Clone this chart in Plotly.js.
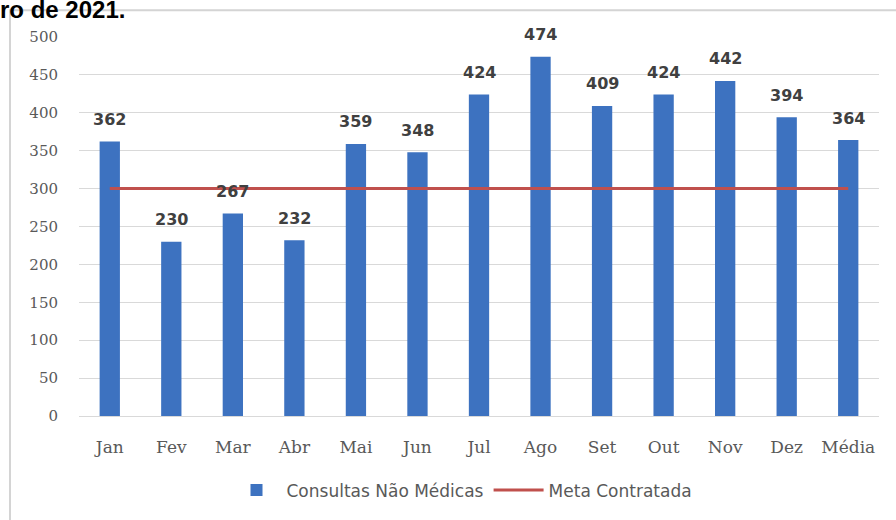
<!DOCTYPE html>
<html>
<head>
<meta charset="utf-8">
<script src="https://cdn.plot.ly/plotly-3.0.1.min.js"></script>
<style>html,body{margin:0;padding:0;background:#fff;}#chart{width:896px;height:520px;}</style>
</head>
<body>
<div id="chart"></div>
<script>
const categories = ["Jan","Fev","Mar","Abr","Mai","Jun","Jul","Ago","Set","Out","Nov","Dez","Média"];
const consultas = [362,230,267,232,359,348,424,474,409,424,442,394,364];
const meta = [300,300,300,300,300,300,300,300,300,300,300,300,300];
const yTicks = [0,50,100,150,200,250,300,350,400,450,500];

const W = 896, H = 520;
const L = 79, R = 17, T = 37, B = 101;
const pw = W - L - R, ph = H - T - B;
const px = x => (x - L) / pw;
const py = y => (H - B - y) / ph;

const traces = [
  {
    type: "bar", x: categories, y: consultas, name: "Consultas Não Médicas",
    marker: {color: "#3d72c0"}, width: 0.33, hoverinfo: "none"
  },
  {
    type: "scatter", mode: "lines", x: categories, y: meta, name: "Meta Contratada",
    line: {color: "#c0504d", width: 3}
  }
];

const labelAnnotations = categories.map((c, i) => ({
  x: c, y: consultas[i], xref: "x", yref: "y", showarrow: false,
  text: String(consultas[i]), yanchor: "middle", yshift: 22,
  font: {family: "DejaVu Sans", size: 16, color: "#404040", weight: "bold"}
}));

const layout = {
  width: W, height: H,
  margin: {l: L, r: R, t: T, b: B},
  paper_bgcolor: "#fff", plot_bgcolor: "#fff",
  font: {family: "Open Sans", color: "#595959", size: 14},
  showlegend: true,
  legend: {orientation: "h", x: px(462), xanchor: "center", y: py(494), yanchor: "middle",
           font: {size: 17, color: "#595959", family: "DejaVu Sans"}, itemwidth: 50, traceorder: "normal"},
  xaxis: {type: "category", showgrid: false, showline: true, linecolor: "#d9d9d9",
          ticks: "", ticklabelstandoff: 16,
          tickfont: {size: 17, color: "#595959", family: "DejaVu Serif"}},
  yaxis: {range: [0, 500], tickvals: yTicks, ticktext: yTicks.map(String),
          showgrid: true, gridcolor: "#d9d9d9", zeroline: false, showline: false,
          ticks: "", ticklabelstandoff: 20,
          tickfont: {size: 15, color: "#595959", family: "DejaVu Serif"}},
  shapes: [
    {type: "rect", xref: "paper", yref: "paper", x0: px(10), x1: px(905), y0: py(530), y1: py(10),
     line: {color: "#d4d4d4", width: 2}, fillcolor: "rgba(0,0,0,0)", layer: "below"}
  ],
  annotations: [
    {xref: "paper", yref: "paper", x: px(-2), y: py(-6), xanchor: "left", yanchor: "top",
     text: "ro de 2021.", showarrow: false,
     font: {family: "Liberation Sans", size: 24, color: "#000", weight: "bold"}}
  ].concat(labelAnnotations)
};

Plotly.newPlot("chart", traces, layout, {displayModeBar: false, staticPlot: true});
</script>
</body>
</html>
